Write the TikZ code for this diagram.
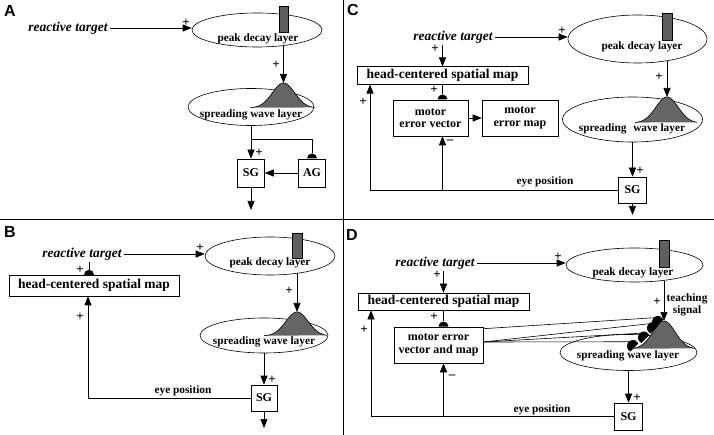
\documentclass[tikz,border=0pt]{standalone}
\usepackage{fontspec}
\setmainfont{Liberation Serif}
\setsansfont{Liberation Sans}
\usetikzlibrary{arrows.meta, shapes.geometric, positioning}
\definecolor{barGray}{RGB}{95,95,95}
\definecolor{waveGray}{RGB}{100,100,100}

\begin{document}
\begin{tikzpicture}[x=1pt, y=-1pt,
	layerStyle/.style={draw, ellipse, inner sep=0pt, line width=0.6pt},
	boxStyle/.style={draw, rectangle, inner sep=0pt, line width=0.6pt, align=center, font=\fontsize{12}{12.5}\selectfont\bfseries},
	mapStyle/.style={boxStyle, font=\fontsize{13.5}{14}\selectfont\bfseries},
	barStyle/.style={draw, fill=barGray, inner sep=0pt, line width=0.4pt},
	layerText/.style={font=\fontsize{11.3}{11.5}\selectfont\bfseries, inner sep=0pt, align=center},
	targetText/.style={font=\fontsize{13.5}{14}\selectfont\bfseries\itshape, inner sep=2pt},
	signStyle/.style={font=\fontsize{13}{13}\selectfont\bfseries, inner sep=0pt},
	panelLabel/.style={font=\fontsize{16}{16}\selectfont\sffamily\bfseries, inner sep=0pt},
	arrowStyle/.style={-{Triangle[length=9pt, width=7pt]}, line width=0.6pt},
	lineStyle/.style={line width=0.6pt},
	inhibStyle/.style={semicircle, fill, inner sep=0pt, minimum size=5pt, anchor=chord center},
	waveStyle/.style={fill=waveGray},]
	
	\useasboundingbox (0,0) rectangle (714,435);
	\draw[line width=1pt] (343,0) -- (343,435);
	\draw[line width=1pt] (0,220) -- (714,220);
	
	%%%%%%%%%%% A
	\node[panelLabel] (labA) at (10,11) {A};
	\node[targetText] (rtA) at (68,28) {reactive target};
	\node[layerStyle, minimum width=130pt, minimum height=34pt] (pdA) at (257,30) {};
	\node[barStyle, minimum width=9pt, minimum height=26pt] (barA) at (283.5,19) {};
	\node[layerText] (pdtA) at (258,39) {peak decay layer};
	\coordinate (pkA) at (283.5,83);
	\node[layerStyle, minimum width=126pt, minimum height=37pt] (swA) at (251,107) {};
	\node[boxStyle, minimum width=27pt, minimum height=28pt] (sgA) at (251,173) {SG};
	\node[boxStyle, minimum width=27pt, minimum height=28pt] (agA) at (312,173) {AG};
	\node[inhibStyle] (inhA) at (agA.north) {};
	\coordinate (brA) at (251,139);
	\coordinate (outA) at (251,210);
	
	\draw[arrowStyle] (rtA.east) -- (rtA.east -| pdA.west);
	\draw[arrowStyle] (barA |- pdA.-30.4) -- (pkA);
	\draw[arrowStyle] (swA) -- (sgA);
	\draw[lineStyle] (brA) -| (inhA.apex);
	\draw[arrowStyle] (agA) -- (sgA);
	\draw[arrowStyle] (sgA) -- (outA);
	
	%%%%%%%%%%% B
	\node[panelLabel] (labB) at (10,232) {B};
	\node[targetText] (rtB) at (82,254) {reactive target};
	\node[layerStyle, minimum width=130pt, minimum height=38pt] (pdB) at (270,256) {};
	\node[barStyle, minimum width=10pt, minimum height=25pt] (barB) at (297,245.5) {};
	\node[layerText] (pdtB) at (270,263) {peak decay layer};
	\coordinate (pkB) at (297,312);
	\node[layerStyle, minimum width=128pt, minimum height=35pt] (swB) at (264,335.5) {};
	\node[mapStyle, minimum width=170pt, minimum height=21pt] (hsmB) at (94,285.5) {head-centered spatial map};
	\node[inhibStyle] (inhB) at (89,275) {};
	\node[boxStyle, minimum width=26pt, minimum height=26pt] (sgB) at (264,398) {SG};
	\coordinate (outB) at (264,428);
	\node[layerText] (eyeB) at (183,391) {eye position};
	
	\draw[arrowStyle] (rtB.east) -- (rtB.east -| pdB.west);
	\draw[lineStyle] (rtB.south -| inhB.apex) -- (inhB.apex);
	\draw[arrowStyle] (barB |- pdB.-32.6) -- (pkB);
	\draw[arrowStyle] (swB) -- (sgB);
	\draw[arrowStyle] (sgB) -- (outB);
	\draw[arrowStyle] (sgB.west) -| ([xshift=-6pt]hsmB.south);
	
	%%%%%%%%%%% C
	\node[panelLabel] (labC) at (353,10) {C};
	\node[targetText] (rtC) at (453,37) {reactive target};
	\node[layerStyle, minimum width=139pt, minimum height=48pt] (pdC) at (637.5,39) {};
	\node[barStyle, minimum width=10pt, minimum height=27pt] (barC) at (667,26.5) {};
	\node[layerText] (pdtC) at (642,47) {peak decay layer};
	\coordinate (pkC) at (667,97);
	\node[mapStyle, minimum width=171pt, minimum height=17.5pt] (hsmC) at (442.5,75.5) {head-centered spatial map};
	\node[boxStyle, minimum width=75pt, minimum height=36pt] (mevC) at (430.5,118) {motor\\error vector};
	\node[boxStyle, minimum width=76pt, minimum height=36pt] (memC) at (520,118) {motor\\error map};
	\node[inhibStyle] (inhC) at (mevC.north -| hsmC.south) {};
	\node[layerStyle, minimum width=140pt, minimum height=45pt] (swC) at (632.5,119.5) {};
	\node[boxStyle, minimum width=28pt, minimum height=26pt] (sgC) at (632.5,190) {SG};
	\coordinate (outC) at (632.5,215);
	\coordinate (cornerC) at (370,190);
	\node[layerText] (eyeC) at (545,182) {eye position};
	
	\draw[arrowStyle] (rtC.east) -- (rtC.east -| pdC.west);
	\draw[arrowStyle] (rtC.south -| hsmC.north) -- (hsmC.north);
	\draw[lineStyle] (hsmC.south) -- (inhC.apex);
	\draw[arrowStyle] (barC |- pdC.-35.8) -- (pkC);
	\draw[arrowStyle] (mevC) -- (memC);
	\draw[arrowStyle] (swC) -- (sgC);
	\draw[arrowStyle] (sgC) -- (outC);
	\draw[arrowStyle] (sgC.west) -- (cornerC) -- (cornerC |- hsmC.south);
	\draw[arrowStyle] (cornerC -| hsmC.south) -- (mevC.south -| hsmC.south);
	
	%%%%%%%%%%% D
	\node[panelLabel] (labD) at (352,235) {D};
	\node[targetText] (rtD) at (435,263) {reactive target};
	\node[layerStyle, minimum width=137pt, minimum height=34pt] (pdD) at (634.5,265) {};
	\node[barStyle, minimum width=10pt, minimum height=27pt] (barD) at (664,253.5) {};
	\node[layerText] (pdtD) at (633,273) {peak decay layer};
	\coordinate (pkD) at (664,321);
	\node[layerText] (tsD) at (687,305) {teaching\\signal};
	\node[mapStyle, minimum width=171pt, minimum height=17pt] (hsmD) at (443.5,301.5) {head-centered spatial map};
	\node[boxStyle, minimum width=89pt, minimum height=36pt] (mevmD) at (438.5,345) {motor error\\vector and map};
	\node[inhibStyle] (inhD) at (mevmD.north -| hsmD.south) {};
	\node[layerStyle, minimum width=137pt, minimum height=36pt] (swD) at (628.5,352.5) {};
	\node[boxStyle, minimum width=28pt, minimum height=27pt] (sgD) at (628.5,416.5) {SG};
	\coordinate (cornerD) at (371,416.5);
	\node[layerText] (eyeD) at (542,410) {eye position};
	
	\coordinate (tchD1) at (658,322);
	\coordinate (tchD2) at (653,328);
	\coordinate (tchD3) at (644,337.5);
	\coordinate (tchD4) at (633,346);
	
	\draw[arrowStyle] (rtD.east) -- (rtD.east -| pdD.west);
	\draw[arrowStyle] (rtD.south -| hsmD.north) -- (hsmD.north);
	\draw[lineStyle] (hsmD.south) -- (inhD.apex);
	\draw[arrowStyle] (barD |- pdD.-27.5) -- (pkD);
	\draw[arrowStyle] (swD) -- (sgD);
	\draw[arrowStyle] (sgD.west) -- (cornerD) -- (cornerD |- hsmD.south);
	\draw[arrowStyle] (cornerD -| hsmD.south) -- (mevmD.south -| hsmD.south);
	
	%%%%%%%%%%% waves
	\foreach \p/\h/\a/\b in {A/25/-33/31, B/24/-33/30, C/26/-32/30, D/28/-33/31}{
		\fill[waveStyle, shift={(pk\p)}] plot[domain=\a:\b, samples=61] (\x, {\h-\h*exp(-\x*\x/250)}) -- cycle;
		\draw[lineStyle, shift={(pk\p)}] plot[domain=\a:\b, samples=61] (\x, {\h-\h*exp(-\x*\x/250)});
	}
	\node[layerText] (swtA) at (251,115) {spreading wave layer};
	\node[layerText] (swtB) at (264,342) {spreading wave layer};
	\node[layerText] (swtC) at (632,129) {spreading\hspace{4pt} wave layer};
	\node[layerText] (swtD) at (628,356) {spreading wave layer};
	
	%%%%%%%%%%% teaching synapses
	\foreach \value in {1,...,4}
	\fill[rotate around={45:(tchD\value)}] ([shift={(200:6pt)}]tchD\value) arc[start angle=200, end angle=-20, radius=6pt] -- cycle;
	\draw[lineStyle] ([yshift=-2pt]mevmD.north east) -- ([shift={(135:6pt)}]tchD1);
	\foreach \value in {2,3,4}
	\draw[lineStyle] ([yshift=3pt]mevmD.east) -- ([shift={(135:6pt)}]tchD\value);
	
	%%%%%%%%%%% signs
	\begin{scope}[every node/.style={signStyle}]
		\node (sA1) at (186,23) {+};
		\node (sA2) at (276,65) {+};
		\node (sA3) at (259,153) {+};
		\node (sB1) at (200,248) {+};
		\node (sB2) at (289,291) {+};
		\node (sB3) at (80,270) {+};
		\node (sB4) at (80,317) {+};
		\node (sB5) at (272,380) {+};
		\node (sC1) at (562,31) {+};
		\node (sC2) at (659,77) {+};
		\node (sC3) at (435,49) {+};
		\node (sC4) at (434,90) {+};
		\node (sC5) at (363,102) {+};
		\node (sC6) at (450,142) {--};
		\node (sC7) at (640,171) {+};
		\node (sD1) at (558,257) {+};
		\node (sD2) at (437,275) {+};
		\node (sD3) at (434,317) {+};
		\node (sD4) at (364,330) {+};
		\node (sD5) at (452,377) {--};
		\node (sD6) at (637,398) {+};
		\node (sD7) at (657,302) {+};
	\end{scope}
\end{tikzpicture}
\end{document}
